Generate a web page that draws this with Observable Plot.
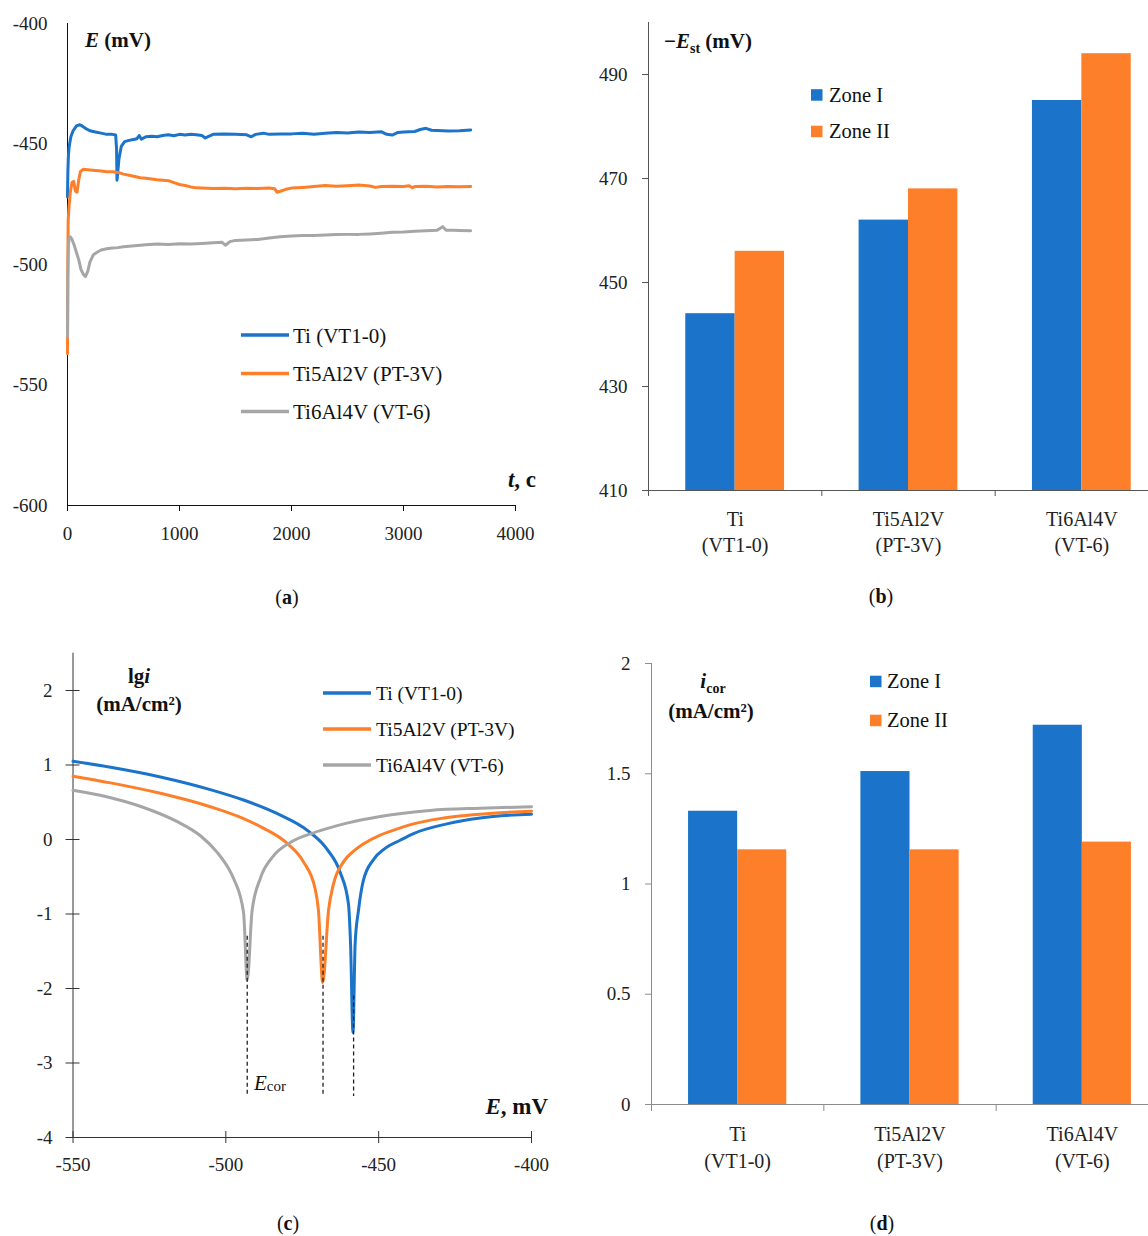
<!DOCTYPE html>
<html><head><meta charset="utf-8">
<script src="https://cdn.jsdelivr.net/npm/d3@7"></script>
<script src="https://cdn.jsdelivr.net/npm/@observablehq/plot@0.6"></script>
<style>
html,body{margin:0;padding:0;background:#fff;overflow:hidden}
#wrap{position:relative;width:1148px;height:1236px;overflow:hidden;background:#fff}
</style></head><body><div id="wrap"></div>
<script>
// ---------- shared ----------
const seriesNames = ["Ti (VT1-0)", "Ti5Al2V (PT-3V)", "Ti6Al4V (VT-6)"];
const seriesColors = ["#1b74c9", "#fd7f29", "#a6a6a6"];
const zones = ["Zone I", "Zone II"];
const zoneColors = ["#1b74c9", "#fd7f29"];
const categories = ["Ti\n(VT1-0)", "Ti5Al2V\n(PT-3V)", "Ti6Al4V\n(VT-6)"];

// ---------- (a) open-circuit potential vs time ----------
const aTicksX = [0, 1000, 2000, 3000, 4000];
const aTicksY = [-600, -550, -500, -450, -400];
const tTi = [0,3,8,15,30,50,80,110,130,160,200,250,300,350,400,430,438,442,448,460,480,510,550,600,620,640,660,700,750,800,850,900,950,1000,1050,1100,1150,1200,1230,1260,1300,1400,1500,1600,1640,1680,1750,1800,1900,2000,2100,2200,2300,2400,2500,2600,2700,2800,2850,2900,2950,3000,3100,3150,3200,3250,3300,3400,3500,3600];
const eTi = [-472,-462,-455,-451,-447,-444.5,-442.5,-442,-442.5,-443.5,-444.5,-445,-445.5,-446,-446,-446.3,-452,-465,-462,-456,-451,-449,-448.5,-448,-447.8,-446.5,-448,-447,-446.8,-447,-446.5,-446.2,-446.6,-446,-446.3,-446,-446.2,-446.5,-447.5,-446.8,-446,-445.8,-446,-446.2,-447,-446,-445.5,-446,-445.8,-445.8,-445.5,-446,-445.5,-445.2,-445.4,-445,-445.2,-444.9,-446,-446.3,-445.2,-445,-444.8,-444,-443.5,-444.3,-444.4,-444.6,-444.5,-444.2];
const tAl2 = [0,3,6,12,25,40,55,70,85,100,115,140,200,250,300,350,400,450,500,550,600,650,700,750,800,850,900,950,1000,1050,1100,1150,1200,1300,1400,1500,1600,1700,1800,1850,1870,1900,1950,2000,2100,2200,2300,2400,2500,2600,2700,2750,2800,2900,3000,3050,3080,3100,3200,3300,3400,3500,3600];
const eAl2 = [-537,-500,-482,-477,-470,-466,-465.5,-469.5,-470,-465,-461.5,-460.5,-460.8,-461,-461.2,-461.5,-461.5,-461.8,-462.5,-463,-463.5,-464,-464.2,-464.5,-464.8,-465,-465.2,-466,-466.8,-467.2,-467.8,-468.2,-468.3,-468.5,-468.4,-468.6,-468.4,-468.5,-468.3,-468.6,-470,-469.6,-468.8,-468.3,-468,-467.6,-467.2,-467.5,-467.3,-467,-467.4,-468,-467.6,-467.5,-467.6,-467.3,-468.2,-467.6,-467.5,-467.8,-467.6,-467.7,-467.6];
const tAl4 = [0,3,8,15,25,40,60,80,100,120,140,160,180,200,230,260,300,350,400,450,500,600,700,800,900,1000,1100,1200,1300,1380,1410,1450,1500,1600,1700,1800,1900,2000,2100,2200,2300,2400,2500,2600,2700,2800,2900,3000,3100,3200,3300,3350,3380,3450,3500,3600];
const eAl4 = [-530,-505,-492,-489,-488.5,-489.5,-492,-495,-498,-502,-504,-505,-503,-499,-496,-495,-494,-493.5,-493.2,-493,-492.6,-492.2,-491.8,-491.5,-491.7,-491.4,-491.5,-491.3,-491,-490.8,-492,-490.5,-490,-489.8,-489.6,-489,-488.5,-488.2,-488,-488,-487.8,-487.6,-487.5,-487.5,-487.3,-487,-486.6,-486.5,-486.2,-486,-485.8,-484.3,-485.8,-485.8,-485.9,-486];

// ---------- (b) steady-state potential ----------
const bTicksY = [410, 430, 450, 470, 490];
const estZoneI = [444, 462, 485];
const estZoneII = [456, 468, 494];

// ---------- (c) polarization curves ----------
const cTicksX = [-550, -500, -450, -400];
const cTicksY = [-4, -3, -2, -1, 0, 1, 2];
const cE_Ti = [-550,-537.7,-521.4,-505.1,-494.2,-483.3,-472.9,-466.9,-462.6,-459.9,-459.2,-458.4,-457.7,-456.6,-455,-451.7,-447.9,-443,-438.6,-427.7,-416.8,-400];
const cL_Ti = [1.05,0.97,0.84,0.67,0.53,0.35,0.11,-0.13,-0.44,-0.86,-1.4,-2.59,-1.4,-0.95,-0.55,-0.27,-0.12,-0.01,0.08,0.21,0.29,0.34];
const cE_Al2 = [-550,-537.7,-521.4,-505.1,-494.2,-487.6,-480,-474.6,-470.8,-469.7,-468.3,-466.4,-464.8,-461.5,-458,-455,-449.5,-446.2,-438.6,-430,-422.3,-400];
const cL_Al2 = [0.85,0.76,0.62,0.44,0.28,0.15,-0.05,-0.30,-0.66,-0.95,-1.92,-0.95,-0.60,-0.30,-0.15,-0.06,0.06,0.11,0.21,0.28,0.32,0.38];
const cE_Al4 = [-550,-537.7,-526.9,-515.9,-508.3,-502.9,-499.1,-497.4,-494.2,-493,-491.4,-488.7,-484.4,-478.9,-471.3,-465.8,-460.4,-449.5,-433.2,-416.8,-400];
const cL_Al4 = [0.66,0.56,0.43,0.24,0.05,-0.17,-0.39,-0.53,-0.98,-1.89,-0.95,-0.52,-0.22,-0.04,0.09,0.16,0.22,0.31,0.39,0.42,0.44];
const eCor = [-458.2, -468.2, -493.0];
const eCorTop = [-2.1, -1.3, -1.3];
const eCorBottom = -3.45;

// ---------- (d) corrosion current ----------
const dTicksY = [0, 0.5, 1, 1.5, 2];
const icorZoneI = [1.33, 1.51, 1.72];
const icorZoneII = [1.155, 1.155, 1.19];

// ======================================================
const FONT = '"Liberation Serif", "Times New Roman", serif';
const wrap = document.getElementById("wrap");
function place(el, left, top) {
  el.style.position = "absolute";
  el.style.left = left + "px";
  el.style.top = top + "px";
  wrap.appendChild(el);
}
const baseStyle = {fontFamily: FONT, fontSize: "19px", color: "#222", background: "none", overflow: "visible"};
const fmt = d => String(d);

// (a)
const aRows = [];
[[tTi, eTi], [tAl2, eAl2], [tAl4, eAl4]].forEach(([t, e], k) =>
  t.forEach((v, i) => aRows.push({t: v, E: e[i], s: seriesNames[k]})));
const plotA = Plot.plot({
  width: 560, height: 560, marginLeft: 67, marginRight: 45, marginTop: 23, marginBottom: 55,
  style: baseStyle,
  x: {domain: [0, 4000], label: null},
  y: {domain: [-600, -400], label: null},
  color: {domain: seriesNames, range: seriesColors},
  marks: [
    Plot.ruleX([0], {stroke: "#111"}),
    Plot.ruleY([-600], {stroke: "#111"}),
    Plot.axisY({ticks: aTicksY, tickSize: 0, tickPadding: 20, tickFormat: fmt, label: null, fill: "#222"}),
    Plot.axisX({ticks: aTicksX, tickSize: 6, tickPadding: 15, tickFormat: fmt, label: null, stroke: "#111", fill: "#222"}),
    Plot.line(aRows, {x: "t", y: "E", z: "s", stroke: "s", strokeWidth: 3, strokeLinejoin: "round"})
  ]
});
place(plotA, 0, 0);

// bar helper
const barHalf = 0.285;
function barRows(v1, v2) {
  const r = [];
  categories.forEach((c, i) => {
    r.push({x1: i + 0.5 - barHalf, x2: i + 0.5, v: v1[i], z: zones[0]});
    r.push({x1: i + 0.5, x2: i + 0.5 + barHalf, v: v2[i], z: zones[1]});
  });
  return r;
}

// (b)
const plotB = Plot.plot({
  width: 568, height: 560, marginLeft: 48, marginRight: 0, marginTop: 22, marginBottom: 70,
  style: baseStyle,
  x: {domain: [0, 3], label: null},
  y: {domain: [410, 500], label: null},
  color: {domain: zones, range: zoneColors},
  marks: [
    Plot.rect(barRows(estZoneI, estZoneII), {x1: "x1", x2: "x2", y1: () => 410, y2: "v", fill: "z"}),
    Plot.ruleX([0], {stroke: "#555"}),
    Plot.ruleY([410], {stroke: "#555"}),
    Plot.axisY({ticks: bTicksY, tickSize: 6, tickPadding: 15, tickFormat: fmt, label: null, stroke: "#555", fill: "#222"}),
    Plot.axisX({ticks: [0, 1, 2, 3], tickSize: 6, tickFormat: () => "", label: null, stroke: "#555"}),
    Plot.text(categories, {x: (d, i) => i + 0.5, y: () => 410, text: d => d, lineAnchor: "top", dy: 17, lineHeight: 1.3, fontSize: 20, fill: "#222"})
  ]
});
place(plotB, 600, 0);

// (c)
const cRows = [];
[[cE_Ti, cL_Ti], [cE_Al2, cL_Al2], [cE_Al4, cL_Al4]].forEach(([e, l], k) =>
  e.forEach((v, i) => cRows.push({E: v, lg: l[i], s: seriesNames[k]})));
const corRows = eCor.map((v, i) => ({E: v, top: eCorTop[i]}));
const plotC = Plot.plot({
  width: 560, height: 616, marginLeft: 72.5, marginRight: 29, marginTop: 32.75, marginBottom: 99,
  style: baseStyle,
  x: {domain: [-550, -400], label: null},
  y: {domain: [-4, 2.5], label: null},
  color: {domain: seriesNames, range: seriesColors},
  marks: [
    Plot.ruleX([-550], {stroke: "#333"}),
    Plot.ruleY([-4], {stroke: "#333"}),
    Plot.axisY({ticks: cTicksY, tickSize: 14, dx: 7, tickPadding: 13.5, tickFormat: fmt, label: null, stroke: "#333", fill: "#222"}),
    Plot.axisX({ticks: cTicksX, tickSize: 12, dy: -6, tickPadding: 14, tickFormat: fmt, label: null, stroke: "#333", fill: "#222"}),
    Plot.line(cRows, {x: "E", y: "lg", z: "s", stroke: "s", strokeWidth: 3, curve: "monotone-x"}),
    Plot.ruleX(corRows, {x: "E", y1: "top", y2: () => eCorBottom, stroke: "#222", strokeWidth: 1.3, strokeDasharray: "4,3"})
  ]
});
place(plotC, 0, 620);

// (d)
const plotD = Plot.plot({
  width: 568, height: 616, marginLeft: 51, marginRight: 0, marginTop: 43, marginBottom: 132,
  style: baseStyle,
  x: {domain: [0, 3], label: null},
  y: {domain: [0, 2], label: null},
  color: {domain: zones, range: zoneColors},
  marks: [
    Plot.rect(barRows(icorZoneI, icorZoneII), {x1: "x1", x2: "x2", y1: () => 0, y2: "v", fill: "z"}),
    Plot.ruleX([0], {stroke: "#8c8c8c"}),
    Plot.ruleY([0], {stroke: "#8c8c8c"}),
    Plot.axisY({ticks: dTicksY, tickSize: 6, tickPadding: 15, tickFormat: fmt, label: null, stroke: "#8c8c8c", fill: "#222"}),
    Plot.axisX({ticks: [0, 1, 2, 3], tickSize: 7, tickFormat: () => "", label: null, stroke: "#8c8c8c"}),
    Plot.text(categories, {x: (d, i) => i + 0.5, y: () => 0, text: d => d, lineAnchor: "top", dy: 18, lineHeight: 1.33, fontSize: 20, fill: "#222"})
  ]
});
place(plotD, 600, 620);

// ---------- text overlay: axis titles, legends, captions ----------
const NS = "http://www.w3.org/2000/svg";
const ov = document.createElementNS(NS, "svg");
ov.setAttribute("width", 1148); ov.setAttribute("height", 1236);
ov.setAttribute("font-family", FONT); ov.setAttribute("fill", "#111");
ov.style.pointerEvents = "none";
let html = "";
// (a)
html += `<text x="85" y="47" font-size="21" font-weight="bold"><tspan font-style="italic">E</tspan> (mV)</text>`;
html += `<text x="536" y="487" font-size="23" font-weight="bold" text-anchor="end"><tspan font-style="italic">t</tspan>, c</text>`;
const legA = [335, 373.5, 411.5];
seriesNames.forEach((n, i) => {
  html += `<line x1="241" x2="289" y1="${legA[i]}" y2="${legA[i]}" stroke="${seriesColors[i]}" stroke-width="3.5"/>`;
  html += `<text x="293" y="${legA[i] + 7.5}" font-size="21">${n}</text>`;
});
html += `<text x="287" y="604" font-size="20" text-anchor="middle">(<tspan font-weight="bold">a</tspan>)</text>`;
// (b)
html += `<text x="664" y="48" font-size="21" font-weight="bold">\u2212<tspan font-style="italic">E</tspan><tspan font-size="14" dy="5">st</tspan><tspan dy="-5"> (mV)</tspan></text>`;
const legB = [95, 131.5];
zones.forEach((z, i) => {
  html += `<rect x="811" y="${legB[i] - 5.8}" width="11.5" height="11.5" fill="${zoneColors[i]}"/>`;
  html += `<text x="829" y="${legB[i] + 6.5}" font-size="20.5">${z}</text>`;
});
html += `<text x="881" y="603" font-size="20" text-anchor="middle">(<tspan font-weight="bold">b</tspan>)</text>`;
// (c)
html += `<text x="139" y="683" font-size="21" font-weight="bold" text-anchor="middle">lg<tspan font-style="italic">i</tspan></text>`;
html += `<text x="139" y="711" font-size="21" font-weight="bold" text-anchor="middle">(mA/cm²)</text>`;
const legC = [693, 729, 765];
seriesNames.forEach((n, i) => {
  html += `<line x1="323" x2="371" y1="${legC[i]}" y2="${legC[i]}" stroke="${seriesColors[i]}" stroke-width="3.5"/>`;
  html += `<text x="376" y="${legC[i] + 6.5}" font-size="19.5">${n}</text>`;
});
html += `<text x="254" y="1090" font-size="21"><tspan font-style="italic">E</tspan><tspan font-size="15" dy="1">cor</tspan></text>`;
html += `<text x="548" y="1114" font-size="23" font-weight="bold" text-anchor="end"><tspan font-style="italic">E</tspan>, mV</text>`;
html += `<text x="288" y="1230" font-size="20" text-anchor="middle">(<tspan font-weight="bold">c</tspan>)</text>`;
// (d)
html += `<text x="713" y="688" font-size="21" font-weight="bold" text-anchor="middle"><tspan font-style="italic">i</tspan><tspan font-size="14" dy="5">cor</tspan></text>`;
html += `<text x="711" y="718" font-size="21" font-weight="bold" text-anchor="middle">(mA/cm²)</text>`;
const legD = [681.5, 720.5];
zones.forEach((z, i) => {
  html += `<rect x="870" y="${legD[i] - 5.8}" width="11.5" height="11.5" fill="${zoneColors[i]}"/>`;
  html += `<text x="887" y="${legD[i] + 6.5}" font-size="20.5">${z}</text>`;
});
html += `<text x="882" y="1230" font-size="20" text-anchor="middle">(<tspan font-weight="bold">d</tspan>)</text>`;
ov.innerHTML = html;
place(ov, 0, 0);
</script></body></html>
